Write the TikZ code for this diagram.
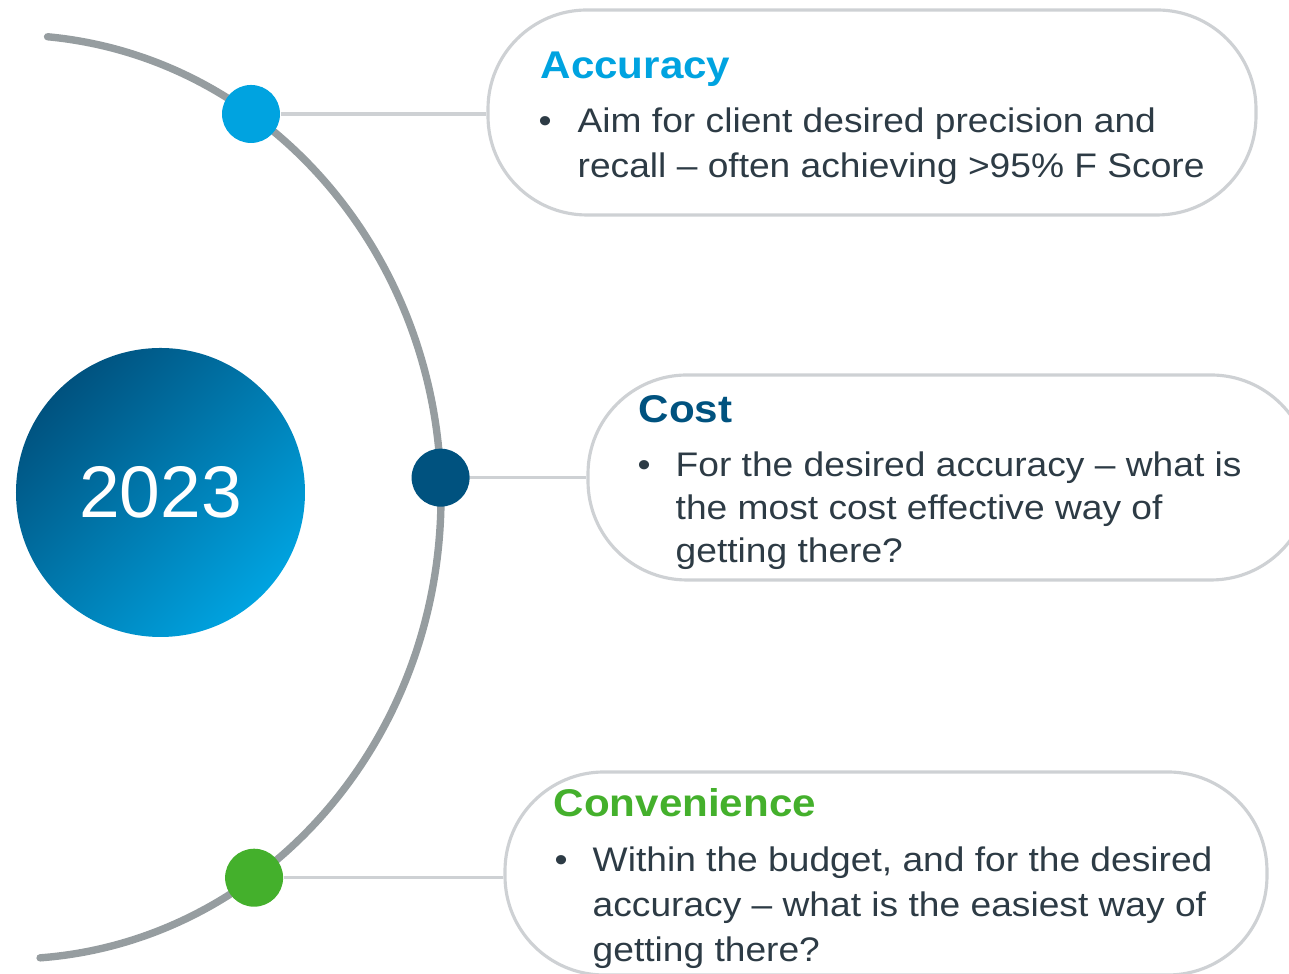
\documentclass[tikz,border=0pt]{standalone}
\usepackage{fontspec}
\setmainfont{Liberation Sans}
\newfontfamily\slidefont[FakeStretch=1.09]{Liberation Sans}
\definecolor{accblue}{HTML}{00A3E0}
\definecolor{costblue}{HTML}{00527F}
\definecolor{convgreen}{HTML}{44B02C}
\definecolor{arcgray}{HTML}{969DA0}
\definecolor{linegray}{HTML}{CED1D4}
\definecolor{bodytext}{HTML}{2D3B45}

\begin{document}
\begin{tikzpicture}[bead/.style={circle, inner sep=0pt, minimum size=5.8mm},
                    pill/.style={draw=linegray, line width=0.9pt, rounded corners=9.9mm,
                                 minimum height=20.5mm, inner sep=0pt},
                    link/.style={draw=linegray, line width=0.9pt},
                    heading/.style={anchor=base west, inner sep=0pt,
                                    font=\slidefont\fontsize{11}{13}\selectfont\bfseries},
                    bodyline/.style={anchor=base west, inner sep=0pt, text=bodytext,
                                     font=\slidefont\fontsize{9.7}{12}\selectfont}]
  \useasboundingbox (0,0) rectangle (12.89,-9.74);
  \clip (0,0) rectangle (12.89,-9.74);

  \coordinate (hub) at (0.10,-4.97);
  \draw[arcgray, line width=2.1pt, line cap=round]
    ([shift={(85:4.31 and 4.62)}]hub) arc[start angle=85, end angle=-86, x radius=4.31, y radius=4.62];

  \node[circle, minimum size=28.9mm, inner sep=0pt, top color=costblue, bottom color=accblue,
        shading angle=45, text=white, font=\fontsize{20.8}{24}\selectfont] (year) at (1.605,-4.925) {2023};

  \node[bead, fill=accblue] (d1) at ([shift={(56:4.31 and 4.62)}]hub) {};
  \node[bead, fill=costblue] (d2) at ([shift={(2.4:4.31 and 4.62)}]hub) {};
  \node[bead, fill=convgreen] (d3) at ([shift={(-55.5:4.31 and 4.62)}]hub) {};

  \node[pill, minimum width=76.8mm] (acc) at (8.72,-1.125) {};
  \node[pill, minimum width=72.2mm] (cost) at (9.49,-4.775) {};
  \node[pill, minimum width=76.2mm, minimum height=20.3mm] (conv) at (8.86,-8.735) {};

  \draw[link] (d1.east) -- (d1.east -| acc.west);
  \draw[link] (d2.east) -- (d2.east -| cost.west);
  \draw[link] (d3.east) -- (d3.east -| conv.west);

  \node[heading, text=accblue] (acc-t) at (5.40,-0.79) {Accuracy};
  \node[bodyline] (acc-b) at (5.38,-1.33) {•};
  \node[bodyline] (acc-1) at (5.77,-1.33) {Aim for client desired precision and};
  \node[bodyline] (acc-2) at (5.77,-1.78) {recall – often achieving >95\% F Score};

  \node[heading, text=costblue] (cost-t) at (6.38,-4.23) {Cost};
  \node[bodyline] (cost-b) at (6.37,-4.77) {•};
  \node[bodyline] (cost-1) at (6.75,-4.77) {For the desired accuracy – what is};
  \node[bodyline] (cost-2) at (6.75,-5.20) {the most cost effective way of};
  \node[bodyline] (cost-3) at (6.75,-5.63) {getting there?};

  \node[heading, text=convgreen] (conv-t) at (5.53,-8.17) {Convenience};
  \node[bodyline] (conv-b) at (5.54,-8.72) {•};
  \node[bodyline] (conv-1) at (5.92,-8.72) {Within the budget, and for the desired};
  \node[bodyline] (conv-2) at (5.92,-9.17) {accuracy – what is the easiest way of};
  \node[bodyline] (conv-3) at (5.92,-9.62) {getting there?};
\end{tikzpicture}
\end{document}
